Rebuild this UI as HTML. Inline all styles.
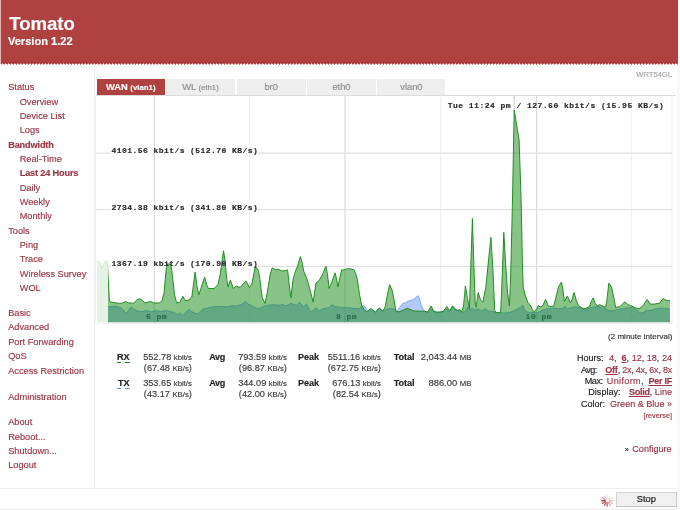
<!DOCTYPE html>
<html><head><meta charset="utf-8"><title>Tomato</title>
<style>
html,body{margin:0;padding:0;}
body{width:680px;height:510px;overflow:hidden;background:#fff;position:relative;font-family:"Liberation Sans",sans-serif;font-size:9.07px;color:#333;}
.a{position:absolute;white-space:nowrap;line-height:12px;}
.m{color:#9b3545;font-size:9.22px;}
.b{font-weight:bold;}
.s{font-size:7.75px;}
.mono{font-family:"Liberation Mono",monospace;font-weight:bold;font-size:8.0px;letter-spacing:0.485px;color:#2a2a2a;}
.tab{position:absolute;top:79px;height:16.3px;background:#eeeeee;color:#8c8c8c;text-align:center;line-height:16.5px;font-size:9.3px;}
.tab .s{font-size:7.8px;}
.r{text-align:right;}
.num{font-size:9.2px;color:#3a3a3a;}
.lb{letter-spacing:-0.3px;color:#222;}
.lk{color:#9b3545;}
.sel{color:#9b3545;font-weight:bold;text-decoration:underline;}
</style></head><body><div id="w" style="position:absolute;left:0;top:0;width:680px;height:510px;will-change:transform;-webkit-text-stroke:0.16px;">

<svg class="a" style="left:0;top:0" width="680" height="70" viewBox="0 0 680 70"><rect x="0" y="0" width="1.3" height="64" fill="#e6b4b4"/><polygon points="1.0,0.0 678.0,0.0 678.0,62.9 678.0,62.9 677.3,65.0 675.7,62.9 674.2,65.0 672.7,62.9 671.1,65.0 669.6,62.9 668.1,65.0 666.5,62.9 665.0,65.0 663.5,62.9 662.0,65.0 660.4,62.9 658.9,65.0 657.4,62.9 655.8,65.0 654.3,62.9 652.8,65.0 651.2,62.9 649.7,65.0 648.2,62.9 646.7,65.0 645.1,62.9 643.6,65.0 642.1,62.9 640.5,65.0 639.0,62.9 637.5,65.0 635.9,62.9 634.4,65.0 632.9,62.9 631.4,65.0 629.8,62.9 628.3,65.0 626.8,62.9 625.2,65.0 623.7,62.9 622.2,65.0 620.6,62.9 619.1,65.0 617.6,62.9 616.1,65.0 614.5,62.9 613.0,65.0 611.5,62.9 609.9,65.0 608.4,62.9 606.9,65.0 605.3,62.9 603.8,65.0 602.3,62.9 600.8,65.0 599.2,62.9 597.7,65.0 596.2,62.9 594.6,65.0 593.1,62.9 591.6,65.0 590.0,62.9 588.5,65.0 587.0,62.9 585.5,65.0 583.9,62.9 582.4,65.0 580.9,62.9 579.3,65.0 577.8,62.9 576.3,65.0 574.7,62.9 573.2,65.0 571.7,62.9 570.2,65.0 568.6,62.9 567.1,65.0 565.6,62.9 564.0,65.0 562.5,62.9 561.0,65.0 559.4,62.9 557.9,65.0 556.4,62.9 554.9,65.0 553.3,62.9 551.8,65.0 550.3,62.9 548.7,65.0 547.2,62.9 545.7,65.0 544.1,62.9 542.6,65.0 541.1,62.9 539.6,65.0 538.0,62.9 536.5,65.0 535.0,62.9 533.4,65.0 531.9,62.9 530.4,65.0 528.9,62.9 527.3,65.0 525.8,62.9 524.3,65.0 522.7,62.9 521.2,65.0 519.7,62.9 518.1,65.0 516.6,62.9 515.1,65.0 513.6,62.9 512.0,65.0 510.5,62.9 509.0,65.0 507.4,62.9 505.9,65.0 504.4,62.9 502.8,65.0 501.3,62.9 499.8,65.0 498.3,62.9 496.7,65.0 495.2,62.9 493.7,65.0 492.1,62.9 490.6,65.0 489.1,62.9 487.5,65.0 486.0,62.9 484.5,65.0 483.0,62.9 481.4,65.0 479.9,62.9 478.4,65.0 476.8,62.9 475.3,65.0 473.8,62.9 472.2,65.0 470.7,62.9 469.2,65.0 467.7,62.9 466.1,65.0 464.6,62.9 463.1,65.0 461.5,62.9 460.0,65.0 458.5,62.9 456.9,65.0 455.4,62.9 453.9,65.0 452.4,62.9 450.8,65.0 449.3,62.9 447.8,65.0 446.2,62.9 444.7,65.0 443.2,62.9 441.6,65.0 440.1,62.9 438.6,65.0 437.1,62.9 435.5,65.0 434.0,62.9 432.5,65.0 430.9,62.9 429.4,65.0 427.9,62.9 426.3,65.0 424.8,62.9 423.3,65.0 421.8,62.9 420.2,65.0 418.7,62.9 417.2,65.0 415.6,62.9 414.1,65.0 412.6,62.9 411.0,65.0 409.5,62.9 408.0,65.0 406.5,62.9 404.9,65.0 403.4,62.9 401.9,65.0 400.3,62.9 398.8,65.0 397.3,62.9 395.7,65.0 394.2,62.9 392.7,65.0 391.2,62.9 389.6,65.0 388.1,62.9 386.6,65.0 385.0,62.9 383.5,65.0 382.0,62.9 380.4,65.0 378.9,62.9 377.4,65.0 375.9,62.9 374.3,65.0 372.8,62.9 371.3,65.0 369.7,62.9 368.2,65.0 366.7,62.9 365.1,65.0 363.6,62.9 362.1,65.0 360.6,62.9 359.0,65.0 357.5,62.9 356.0,65.0 354.4,62.9 352.9,65.0 351.4,62.9 349.8,65.0 348.3,62.9 346.8,65.0 345.3,62.9 343.7,65.0 342.2,62.9 340.7,65.0 339.1,62.9 337.6,65.0 336.1,62.9 334.5,65.0 333.0,62.9 331.5,65.0 330.0,62.9 328.4,65.0 326.9,62.9 325.4,65.0 323.8,62.9 322.3,65.0 320.8,62.9 319.2,65.0 317.7,62.9 316.2,65.0 314.7,62.9 313.1,65.0 311.6,62.9 310.1,65.0 308.5,62.9 307.0,65.0 305.5,62.9 303.9,65.0 302.4,62.9 300.9,65.0 299.4,62.9 297.8,65.0 296.3,62.9 294.8,65.0 293.2,62.9 291.7,65.0 290.2,62.9 288.6,65.0 287.1,62.9 285.6,65.0 284.1,62.9 282.5,65.0 281.0,62.9 279.5,65.0 277.9,62.9 276.4,65.0 274.9,62.9 273.3,65.0 271.8,62.9 270.3,65.0 268.8,62.9 267.2,65.0 265.7,62.9 264.2,65.0 262.6,62.9 261.1,65.0 259.6,62.9 258.0,65.0 256.5,62.9 255.0,65.0 253.5,62.9 251.9,65.0 250.4,62.9 248.9,65.0 247.3,62.9 245.8,65.0 244.3,62.9 242.7,65.0 241.2,62.9 239.7,65.0 238.2,62.9 236.6,65.0 235.1,62.9 233.6,65.0 232.0,62.9 230.5,65.0 229.0,62.9 227.4,65.0 225.9,62.9 224.4,65.0 222.9,62.9 221.3,65.0 219.8,62.9 218.3,65.0 216.7,62.9 215.2,65.0 213.7,62.9 212.1,65.0 210.6,62.9 209.1,65.0 207.6,62.9 206.0,65.0 204.5,62.9 203.0,65.0 201.4,62.9 199.9,65.0 198.4,62.9 196.8,65.0 195.3,62.9 193.8,65.0 192.3,62.9 190.7,65.0 189.2,62.9 187.7,65.0 186.1,62.9 184.6,65.0 183.1,62.9 181.5,65.0 180.0,62.9 178.5,65.0 177.0,62.9 175.4,65.0 173.9,62.9 172.4,65.0 170.8,62.9 169.3,65.0 167.8,62.9 166.2,65.0 164.7,62.9 163.2,65.0 161.7,62.9 160.1,65.0 158.6,62.9 157.1,65.0 155.5,62.9 154.0,65.0 152.5,62.9 150.9,65.0 149.4,62.9 147.9,65.0 146.4,62.9 144.8,65.0 143.3,62.9 141.8,65.0 140.2,62.9 138.7,65.0 137.2,62.9 135.6,65.0 134.1,62.9 132.6,65.0 131.1,62.9 129.5,65.0 128.0,62.9 126.5,65.0 124.9,62.9 123.4,65.0 121.9,62.9 120.3,65.0 118.8,62.9 117.3,65.0 115.8,62.9 114.2,65.0 112.7,62.9 111.2,65.0 109.6,62.9 108.1,65.0 106.6,62.9 105.0,65.0 103.5,62.9 102.0,65.0 100.5,62.9 98.9,65.0 97.4,62.9 95.9,65.0 94.3,62.9 92.8,65.0 91.3,62.9 89.7,65.0 88.2,62.9 86.7,65.0 85.2,62.9 83.6,65.0 82.1,62.9 80.6,65.0 79.0,62.9 77.5,65.0 76.0,62.9 74.4,65.0 72.9,62.9 71.4,65.0 69.9,62.9 68.3,65.0 66.8,62.9 65.3,65.0 63.7,62.9 62.2,65.0 60.7,62.9 59.1,65.0 57.6,62.9 56.1,65.0 54.6,62.9 53.0,65.0 51.5,62.9 50.0,65.0 48.4,62.9 46.9,65.0 45.4,62.9 43.8,65.0 42.3,62.9 40.8,65.0 39.2,62.9 37.7,65.0 36.2,62.9 34.7,65.0 33.1,62.9 31.6,65.0 30.1,62.9 28.5,65.0 27.0,62.9 25.5,65.0 23.9,62.9 22.4,65.0 20.9,62.9 19.4,65.0 17.8,62.9 16.3,65.0 14.8,62.9 13.2,65.0 11.7,62.9 10.2,65.0 8.7,62.9 7.1,65.0 5.6,62.9 4.1,65.0 2.5,62.9 1.0,65.0 1.0,62.9" fill="#b04141"/><rect x="1" y="62.2" width="677" height="1.3" fill="#8a2a2a" fill-opacity="0.35"/></svg>
<div class="a b" style="left:9.3px;top:12.6px;font-size:18.55px;line-height:22px;color:#fff;">Tomato</div>
<div class="a b" style="left:7.9px;top:33.7px;font-size:11.1px;line-height:14px;color:#fff;">Version 1.22</div>
<div class="a" style="left:93.5px;top:66px;width:1px;height:422px;background:#ededed;"></div>
<div class="a" style="left:0;top:487.5px;width:680px;height:1px;background:#eeeeee;"></div>
<div class="a" style="left:0;top:508.5px;width:680px;height:1px;background:#ededed;"></div>
<div class="a" style="left:677.4px;top:65px;width:2.6px;height:445px;background:#f8f8f8;"></div>
<div class="a m" style="left:8.2px;top:81.20px;">Status</div>
<div class="a m" style="left:19.7px;top:95.55px;">Overview</div>
<div class="a m" style="left:19.7px;top:109.90px;">Device List</div>
<div class="a m" style="left:19.7px;top:124.25px;">Logs</div>
<div class="a m b" style="left:8.2px;top:138.60px;letter-spacing:-0.18px;">Bandwidth</div>
<div class="a m" style="left:19.7px;top:152.95px;">Real-Time</div>
<div class="a m b" style="left:19.7px;top:167.30px;letter-spacing:-0.18px;">Last 24 Hours</div>
<div class="a m" style="left:19.7px;top:181.65px;">Daily</div>
<div class="a m" style="left:19.7px;top:196.00px;">Weekly</div>
<div class="a m" style="left:19.7px;top:210.35px;">Monthly</div>
<div class="a m" style="left:8.2px;top:224.70px;">Tools</div>
<div class="a m" style="left:19.7px;top:239.05px;">Ping</div>
<div class="a m" style="left:19.7px;top:253.40px;">Trace</div>
<div class="a m" style="left:19.7px;top:267.75px;">Wireless Survey</div>
<div class="a m" style="left:19.7px;top:282.10px;">WOL</div>
<div class="a m" style="left:8.2px;top:307.00px;">Basic</div>
<div class="a m" style="left:8.2px;top:321.40px;">Advanced</div>
<div class="a m" style="left:8.2px;top:335.80px;">Port Forwarding</div>
<div class="a m" style="left:8.2px;top:350.20px;">QoS</div>
<div class="a m" style="left:8.2px;top:364.60px;">Access Restriction</div>
<div class="a m" style="left:8.2px;top:390.60px;">Administration</div>
<div class="a m" style="left:8.2px;top:416.20px;">About</div>
<div class="a m" style="left:8.2px;top:430.60px;">Reboot...</div>
<div class="a m" style="left:8.2px;top:445.00px;">Shutdown...</div>
<div class="a m" style="left:8.2px;top:459.40px;">Logout</div>
<div class="a s" style="right:8px;top:69px;color:#a4a4a4;font-size:7.6px;">WRT54GL</div>
<div class="tab b" style="left:97px;width:67.6px;background:#b04141;color:#fff;">WAN <span class="s">(vlan1)</span></div>
<div class="tab" style="left:166px;width:69px;">WL <span class="s">(eth1)</span></div>
<div class="tab" style="left:236.6px;width:69px;">br0</div>
<div class="tab" style="left:307px;width:69px;">eth0</div>
<div class="tab" style="left:377.4px;width:68px;">vlan0</div>
<svg class="a" style="left:0;top:0" width="680" height="510" viewBox="0 0 680 510">
<g shape-rendering="auto">
<line x1="95" y1="95.5" x2="676" y2="95.5" stroke="#dcdcdc" stroke-width="1"/>
<line x1="95.5" y1="95" x2="95.5" y2="323" stroke="#efefef" stroke-width="1"/>
<line x1="672" y1="95" x2="672" y2="323" stroke="#efefef" stroke-width="1"/>
<line x1="95" y1="323.3" x2="672" y2="323.3" stroke="#efefef" stroke-width="1"/>
<line x1="154.3" y1="96" x2="154.3" y2="322.5" stroke="#dadada" stroke-width="1.2"/>
<line x1="249.5" y1="96" x2="249.5" y2="322.5" stroke="#f0f0f0" stroke-width="1.2"/>
<line x1="345.0" y1="96" x2="345.0" y2="322.5" stroke="#dadada" stroke-width="1.2"/>
<line x1="440.6" y1="96" x2="440.6" y2="322.5" stroke="#f0f0f0" stroke-width="1.2"/>
<line x1="536.6" y1="96" x2="536.6" y2="322.5" stroke="#dadada" stroke-width="1.2"/>
<line x1="631.3" y1="96" x2="631.3" y2="322.5" stroke="#f0f0f0" stroke-width="1.2"/>
<line x1="96" y1="153.15" x2="110.5" y2="153.15" stroke="#e1e1e1" stroke-width="1.2"/>
<line x1="257.5" y1="153.15" x2="672" y2="153.15" stroke="#e1e1e1" stroke-width="1.2"/>
<line x1="96" y1="209.7" x2="110.5" y2="209.7" stroke="#e1e1e1" stroke-width="1.2"/>
<line x1="257.5" y1="209.7" x2="672" y2="209.7" stroke="#e1e1e1" stroke-width="1.2"/>
<line x1="96" y1="266.35" x2="110.5" y2="266.35" stroke="#e1e1e1" stroke-width="1.2"/>
<line x1="257.5" y1="266.35" x2="672" y2="266.35" stroke="#e1e1e1" stroke-width="1.2"/>
<line x1="514.2" y1="96" x2="514.2" y2="110" stroke="#c4c4c4" stroke-width="0.9"/>
<polygon points="108.0,306.6 109.0,306.6 117.0,306.6 120.7,307.6 123.7,310.3 125.9,313.5 128.1,311.0 131.0,307.0 133.5,308.8 136.9,311.0 142.0,311.5 146.5,310.6 150.9,311.8 156.8,310.6 161.2,311.5 165.6,310.6 170.0,311.5 174.4,312.5 177.4,314.7 180.0,312.9 183.2,315.4 186.9,311.0 189.1,309.6 192.1,311.8 195.0,313.2 198.1,313.5 200.3,311.8 203.2,308.8 206.2,308.5 209.1,307.4 215.0,306.6 226.8,306.6 232.6,305.6 237.1,305.9 241.5,304.4 245.6,301.5 248.1,304.1 251.8,305.6 256.2,308.1 259.1,308.5 263.5,306.6 266.5,305.6 272.4,304.7 278.2,305.1 284.1,304.7 285.0,305.9 287.9,305.1 290.9,303.2 293.8,304.7 296.8,305.1 299.7,302.2 302.4,305.6 303.8,306.6 306.8,304.1 308.5,308.1 310.7,311.8 313.7,310.3 316.2,307.6 318.8,311.0 323.2,308.8 329.1,307.4 332.1,304.4 335.0,306.6 340.9,307.4 346.8,307.6 352.6,308.1 355.0,308.5 359.4,308.5 361.6,306.5 363.8,305.3 366.0,308.5 368.2,311.2 370.4,309.4 372.6,310.4 375.6,312.4 379.3,308.5 382.9,311.5 385.9,309.4 390.3,308.5 394.0,309.0 396.2,311.2 398.4,309.4 400.6,306.0 402.8,303.5 405.7,302.6 408.7,300.9 411.6,300.1 414.6,298.7 416.8,296.5 418.2,295.7 419.7,299.4 421.2,305.3 423.4,310.0 425.6,311.9 428.5,312.4 431.5,308.5 434.4,311.9 443.2,311.9 446.9,309.0 449.9,311.2 452.6,306.6 455.1,309.6 457.4,310.6 459.6,310.0 461.8,312.5 464.7,311.8 468.4,306.6 469.9,310.3 472.1,308.1 475.0,310.3 478.7,308.8 481.6,311.0 485.3,308.8 488.2,311.0 494.1,311.8 500.0,312.9 505.9,312.9 511.8,311.8 517.6,308.8 520.6,307.4 522.8,305.1 524.3,308.8 526.5,311.8 529.4,312.5 534.1,312.5 537.9,312.5 540.9,311.0 543.8,309.6 548.2,308.8 554.1,308.1 558.5,308.8 562.9,308.1 565.1,306.6 567.4,308.8 570.3,308.1 574.0,306.6 577.6,307.1 582.1,308.8 585.7,309.6 589.4,308.1 593.8,307.1 598.2,306.6 602.6,307.6 605.6,308.8 608.5,310.6 612.9,310.6 617.4,309.6 621.8,308.8 626.2,308.1 629.8,307.8 632.6,306.9 636.4,309.7 640.1,313.0 643.8,312.5 646.6,310.0 650.3,310.6 654.1,309.3 659.7,308.2 665.3,308.2 669.9,309.3 670.0,322.3 108.0,322.3" fill="#6495ed" fill-opacity="0.5"/>
<polyline points="108.0,306.6 109.0,306.6 117.0,306.6 120.7,307.6 123.7,310.3 125.9,313.5 128.1,311.0 131.0,307.0 133.5,308.8 136.9,311.0 142.0,311.5 146.5,310.6 150.9,311.8 156.8,310.6 161.2,311.5 165.6,310.6 170.0,311.5 174.4,312.5 177.4,314.7 180.0,312.9 183.2,315.4 186.9,311.0 189.1,309.6 192.1,311.8 195.0,313.2 198.1,313.5 200.3,311.8 203.2,308.8 206.2,308.5 209.1,307.4 215.0,306.6 226.8,306.6 232.6,305.6 237.1,305.9 241.5,304.4 245.6,301.5 248.1,304.1 251.8,305.6 256.2,308.1 259.1,308.5 263.5,306.6 266.5,305.6 272.4,304.7 278.2,305.1 284.1,304.7 285.0,305.9 287.9,305.1 290.9,303.2 293.8,304.7 296.8,305.1 299.7,302.2 302.4,305.6 303.8,306.6 306.8,304.1 308.5,308.1 310.7,311.8 313.7,310.3 316.2,307.6 318.8,311.0 323.2,308.8 329.1,307.4 332.1,304.4 335.0,306.6 340.9,307.4 346.8,307.6 352.6,308.1 355.0,308.5 359.4,308.5 361.6,306.5 363.8,305.3 366.0,308.5 368.2,311.2 370.4,309.4 372.6,310.4 375.6,312.4 379.3,308.5 382.9,311.5 385.9,309.4 390.3,308.5 394.0,309.0 396.2,311.2 398.4,309.4 400.6,306.0 402.8,303.5 405.7,302.6 408.7,300.9 411.6,300.1 414.6,298.7 416.8,296.5 418.2,295.7 419.7,299.4 421.2,305.3 423.4,310.0 425.6,311.9 428.5,312.4 431.5,308.5 434.4,311.9 443.2,311.9 446.9,309.0 449.9,311.2 452.6,306.6 455.1,309.6 457.4,310.6 459.6,310.0 461.8,312.5 464.7,311.8 468.4,306.6 469.9,310.3 472.1,308.1 475.0,310.3 478.7,308.8 481.6,311.0 485.3,308.8 488.2,311.0 494.1,311.8 500.0,312.9 505.9,312.9 511.8,311.8 517.6,308.8 520.6,307.4 522.8,305.1 524.3,308.8 526.5,311.8 529.4,312.5 534.1,312.5 537.9,312.5 540.9,311.0 543.8,309.6 548.2,308.8 554.1,308.1 558.5,308.8 562.9,308.1 565.1,306.6 567.4,308.8 570.3,308.1 574.0,306.6 577.6,307.1 582.1,308.8 585.7,309.6 589.4,308.1 593.8,307.1 598.2,306.6 602.6,307.6 605.6,308.8 608.5,310.6 612.9,310.6 617.4,309.6 621.8,308.8 626.2,308.1 629.8,307.8 632.6,306.9 636.4,309.7 640.1,313.0 643.8,312.5 646.6,310.0 650.3,310.6 654.1,309.3 659.7,308.2 665.3,308.2 669.9,309.3" fill="none" stroke="#6495ed" stroke-width="0.75" stroke-linejoin="round"/>
<polygon points="97.0,261.8 99.6,261.8 102.2,268.5 104.8,261.6 107.3,261.8 109.4,300.8 110.6,302.0 114.1,302.6 118.5,303.2 122.2,303.2 125.4,301.5 128.8,302.9 133.5,303.2 136.9,300.0 139.1,298.8 141.8,299.7 144.3,302.6 147.9,302.2 150.6,301.2 153.1,302.9 159.7,302.9 161.9,300.7 164.1,292.6 166.3,267.6 167.4,264.0 170.7,264.0 172.2,273.5 174.4,294.1 176.6,302.9 179.6,302.6 182.9,296.3 185.4,300.7 189.1,300.0 190.0,298.5 191.8,297.1 193.2,286.8 195.1,272.1 197.1,286.8 198.8,294.9 201.0,288.2 204.7,277.2 206.9,285.3 208.4,288.5 214.3,288.5 217.9,284.6 220.1,275.0 222.4,258.8 223.5,250.7 225.0,260.3 226.8,279.4 227.9,286.8 230.4,280.1 233.4,288.5 236.3,286.0 240.0,287.5 245.9,280.9 249.6,287.5 251.8,283.8 255.4,266.2 258.4,270.6 259.9,279.4 262.1,297.1 265.0,303.7 267.2,292.6 270.1,275.0 272.1,267.9 276.0,269.9 278.2,269.1 281.2,270.9 285.0,270.6 287.6,269.9 289.1,283.8 290.9,297.8 293.1,279.4 294.6,273.5 297.5,266.2 300.4,256.6 301.9,261.8 303.8,271.3 307.1,279.4 310.0,289.7 313.2,302.2 315.9,283.1 319.1,280.6 322.9,273.5 325.9,266.2 327.4,273.5 329.1,288.5 332.1,281.6 335.0,272.8 336.2,277.2 337.9,286.8 340.1,276.5 341.6,269.9 343.8,269.9 348.2,268.4 354.1,269.9 355.6,273.5 357.2,278.8 359.4,293.5 361.6,305.3 364.6,310.4 367.5,311.9 370.4,308.5 372.6,309.7 375.6,311.9 379.3,307.9 382.9,311.2 385.1,306.8 387.4,295.0 389.6,284.7 391.8,289.1 394.0,299.4 395.9,311.2 399.1,311.9 403.5,310.0 407.2,308.2 410.1,309.4 413.8,310.9 419.7,311.2 424.1,311.2 427.8,311.9 431.2,306.0 433.7,311.2 437.4,312.4 443.2,311.5 446.9,306.5 449.4,310.4 450.0,310.3 452.6,305.9 455.1,308.8 457.4,310.3 459.6,309.6 461.8,311.8 463.5,305.9 465.4,286.0 467.6,298.5 469.4,308.8 470.9,263.2 472.4,218.5 473.8,263.2 475.3,304.4 476.2,307.4 478.2,292.6 480.6,300.0 482.9,302.1 485.9,286.8 488.8,257.4 490.9,237.4 492.9,269.1 494.7,310.3 495.9,312.6 500.6,312.6 501.8,286.8 503.8,232.4 505.6,263.2 507.6,292.6 509.4,305.9 510.6,277.9 512.4,204.4 514.2,110.0 519.1,140.0 520.3,175.0 521.2,204.4 522.4,263.2 523.2,287.5 525.2,295.0 527.8,302.3 530.5,305.5 532.4,309.6 534.1,311.8 536.8,308.8 538.2,305.6 540.9,307.1 543.1,305.1 545.6,299.3 548.2,305.9 551.2,306.6 553.8,305.9 556.3,295.6 558.5,286.8 561.5,282.1 562.9,289.7 564.4,301.5 567.4,295.9 570.3,302.9 572.1,299.3 574.0,292.4 576.2,300.0 578.4,305.6 582.1,308.1 585.7,308.5 589.4,306.6 591.6,300.7 593.1,297.8 595.3,303.7 597.5,305.6 599.7,304.7 602.6,305.9 605.6,307.4 607.1,298.5 608.8,283.1 611.5,286.8 613.7,297.1 615.6,307.4 619.6,306.6 622.5,304.4 624.7,301.8 627.6,304.4 630.6,305.6 635.4,307.8 639.2,308.7 642.9,305.9 647.2,299.4 650.3,304.1 654.1,304.1 659.7,303.1 663.0,298.5 666.2,300.3 669.9,300.7 670.0,322.3 97.0,322.3" fill="#118811" fill-opacity="0.5"/>
<polyline points="97.0,261.8 99.6,261.8 102.2,268.5 104.8,261.6 107.3,261.8 109.4,300.8 110.6,302.0 114.1,302.6 118.5,303.2 122.2,303.2 125.4,301.5 128.8,302.9 133.5,303.2 136.9,300.0 139.1,298.8 141.8,299.7 144.3,302.6 147.9,302.2 150.6,301.2 153.1,302.9 159.7,302.9 161.9,300.7 164.1,292.6 166.3,267.6 167.4,264.0 170.7,264.0 172.2,273.5 174.4,294.1 176.6,302.9 179.6,302.6 182.9,296.3 185.4,300.7 189.1,300.0 190.0,298.5 191.8,297.1 193.2,286.8 195.1,272.1 197.1,286.8 198.8,294.9 201.0,288.2 204.7,277.2 206.9,285.3 208.4,288.5 214.3,288.5 217.9,284.6 220.1,275.0 222.4,258.8 223.5,250.7 225.0,260.3 226.8,279.4 227.9,286.8 230.4,280.1 233.4,288.5 236.3,286.0 240.0,287.5 245.9,280.9 249.6,287.5 251.8,283.8 255.4,266.2 258.4,270.6 259.9,279.4 262.1,297.1 265.0,303.7 267.2,292.6 270.1,275.0 272.1,267.9 276.0,269.9 278.2,269.1 281.2,270.9 285.0,270.6 287.6,269.9 289.1,283.8 290.9,297.8 293.1,279.4 294.6,273.5 297.5,266.2 300.4,256.6 301.9,261.8 303.8,271.3 307.1,279.4 310.0,289.7 313.2,302.2 315.9,283.1 319.1,280.6 322.9,273.5 325.9,266.2 327.4,273.5 329.1,288.5 332.1,281.6 335.0,272.8 336.2,277.2 337.9,286.8 340.1,276.5 341.6,269.9 343.8,269.9 348.2,268.4 354.1,269.9 355.6,273.5 357.2,278.8 359.4,293.5 361.6,305.3 364.6,310.4 367.5,311.9 370.4,308.5 372.6,309.7 375.6,311.9 379.3,307.9 382.9,311.2 385.1,306.8 387.4,295.0 389.6,284.7 391.8,289.1 394.0,299.4 395.9,311.2 399.1,311.9 403.5,310.0 407.2,308.2 410.1,309.4 413.8,310.9 419.7,311.2 424.1,311.2 427.8,311.9 431.2,306.0 433.7,311.2 437.4,312.4 443.2,311.5 446.9,306.5 449.4,310.4 450.0,310.3 452.6,305.9 455.1,308.8 457.4,310.3 459.6,309.6 461.8,311.8 463.5,305.9 465.4,286.0 467.6,298.5 469.4,308.8 470.9,263.2 472.4,218.5 473.8,263.2 475.3,304.4 476.2,307.4 478.2,292.6 480.6,300.0 482.9,302.1 485.9,286.8 488.8,257.4 490.9,237.4 492.9,269.1 494.7,310.3 495.9,312.6 500.6,312.6 501.8,286.8 503.8,232.4 505.6,263.2 507.6,292.6 509.4,305.9 510.6,277.9 512.4,204.4 514.2,110.0 519.1,140.0 520.3,175.0 521.2,204.4 522.4,263.2 523.2,287.5 525.2,295.0 527.8,302.3 530.5,305.5 532.4,309.6 534.1,311.8 536.8,308.8 538.2,305.6 540.9,307.1 543.1,305.1 545.6,299.3 548.2,305.9 551.2,306.6 553.8,305.9 556.3,295.6 558.5,286.8 561.5,282.1 562.9,289.7 564.4,301.5 567.4,295.9 570.3,302.9 572.1,299.3 574.0,292.4 576.2,300.0 578.4,305.6 582.1,308.1 585.7,308.5 589.4,306.6 591.6,300.7 593.1,297.8 595.3,303.7 597.5,305.6 599.7,304.7 602.6,305.9 605.6,307.4 607.1,298.5 608.8,283.1 611.5,286.8 613.7,297.1 615.6,307.4 619.6,306.6 622.5,304.4 624.7,301.8 627.6,304.4 630.6,305.6 635.4,307.8 639.2,308.7 642.9,305.9 647.2,299.4 650.3,304.1 654.1,304.1 659.7,303.1 663.0,298.5 666.2,300.3 669.9,300.7" fill="none" stroke="#1a8a1a" stroke-opacity="1" stroke-width="0.95" stroke-linejoin="round"/>
<rect x="96" y="255" width="12.0" height="68.30000000000001" fill="#fff" fill-opacity="0.80"/>
</g></svg>
<div class="a mono" style="left:111.5px;top:145.23px;letter-spacing:0.440px;">4101.56 kbit/s (512.70 KB/s)</div>
<div class="a mono" style="left:111.5px;top:201.83px;letter-spacing:0.440px;">2734.38 kbit/s (341.80 KB/s)</div>
<div class="a mono" style="left:111.5px;top:258.38px;letter-spacing:0.440px;">1367.19 kbit/s (170.90 KB/s)</div>
<div class="a mono" style="left:447.7px;top:99.93px;">Tue 11:24 pm / 127.60 kbit/s (15.95 KB/s)</div>
<div class="a mono" style="left:145.9px;top:311.03px;color:#226f47;opacity:0.95;">6 pm</div>
<div class="a mono" style="left:335.9px;top:311.03px;color:#226f47;opacity:0.95;">8 pm</div>
<div class="a mono" style="left:525.6px;top:311.03px;color:#226f47;opacity:0.95;">10 pm</div>
<div class="a" style="right:7.6px;top:330.8px;font-size:8.05px;color:#333;">(2 minute interval)</div>
<div class="a b r" style="left:99.7px;width:30px;top:351px;color:#222;font-size:9.1px;">RX</div>
<div class="a" style="left:117.4px;top:362.1px;width:3.2px;height:1.2px;background:#118811;"></div>
<div class="a" style="left:125.2px;top:362.1px;width:4.6px;height:1.2px;background:#118811;"></div>
<div class="a r num" style="left:111.9px;width:80px;top:351px;">552.78 <span class="s">kbit/s</span></div>
<div class="a r num" style="left:111.9px;width:80px;top:362.1px;">(67.48 <span class="s">KB/s</span>)</div>
<div class="a b lb" style="left:209.2px;top:351px;">Avg</div>
<div class="a r num" style="left:206.89999999999998px;width:80px;top:351px;">793.59 <span class="s">kbit/s</span></div>
<div class="a r num" style="left:206.89999999999998px;width:80px;top:362.1px;">(96.87 <span class="s">KB/s</span>)</div>
<div class="a b lb" style="left:298px;top:351px;letter-spacing:0px;">Peak</div>
<div class="a r num" style="left:300.9px;width:80px;top:351px;">5511.16 <span class="s">kbit/s</span></div>
<div class="a r num" style="left:300.9px;width:80px;top:362.1px;">(672.75 <span class="s">KB/s</span>)</div>
<div class="a b lb" style="left:393.7px;top:351px;letter-spacing:-0.05px;">Total</div>
<div class="a r num" style="left:391.4px;width:80px;top:351px;font-size:9.35px;">2,043.44 <span class="s" style="font-size:7.8px">MB</span></div>
<div class="a b r" style="left:99.7px;width:30px;top:376.5px;color:#222;font-size:9.1px;">TX</div>
<div class="a" style="left:117.4px;top:387.6px;width:3.2px;height:1.2px;background:#6495ed;"></div>
<div class="a" style="left:125.2px;top:387.6px;width:4.6px;height:1.2px;background:#6495ed;"></div>
<div class="a r num" style="left:111.9px;width:80px;top:376.5px;">353.65 <span class="s">kbit/s</span></div>
<div class="a r num" style="left:111.9px;width:80px;top:387.6px;">(43.17 <span class="s">KB/s</span>)</div>
<div class="a b lb" style="left:209.2px;top:376.5px;">Avg</div>
<div class="a r num" style="left:206.89999999999998px;width:80px;top:376.5px;">344.09 <span class="s">kbit/s</span></div>
<div class="a r num" style="left:206.89999999999998px;width:80px;top:387.6px;">(42.00 <span class="s">KB/s</span>)</div>
<div class="a b lb" style="left:298px;top:376.5px;letter-spacing:0px;">Peak</div>
<div class="a r num" style="left:300.9px;width:80px;top:376.5px;">676.13 <span class="s">kbit/s</span></div>
<div class="a r num" style="left:300.9px;width:80px;top:387.6px;">(82.54 <span class="s">KB/s</span>)</div>
<div class="a b lb" style="left:393.7px;top:376.5px;letter-spacing:-0.05px;">Total</div>
<div class="a r num" style="left:391.4px;width:80px;top:376.5px;font-size:9.35px;">886.00 <span class="s" style="font-size:7.8px">MB</span></div>
<div class="a" style="left:576.9px;top:352.2px;color:#222;">Hours:</div>
<div class="a r" style="right:8px;top:352.2px;letter-spacing:0px;"><span class="lk">4</span>,&nbsp; <span class="sel">6</span>, <span class="lk">12</span>, <span class="lk">18</span>, <span class="lk">24</span></div>
<div class="a" style="left:580.9px;top:363.6px;color:#222;letter-spacing:-0.5px;">Avg:</div>
<div class="a r" style="right:8px;top:363.6px;letter-spacing:-0.26px;"><span class="sel">Off</span>, <span class="lk">2x</span>, <span class="lk">4x</span>, <span class="lk">6x</span>, <span class="lk">8x</span></div>
<div class="a" style="left:584.8px;top:375.0px;color:#222;letter-spacing:-0.5px;">Max:</div>
<div class="a r" style="right:8px;top:375.0px;letter-spacing:0px;"><span class="lk" style="letter-spacing:0.35px">Uniform</span>,&nbsp; <span class="sel" style="letter-spacing:-0.28px">Per IF</span></div>
<div class="a" style="left:588.3px;top:386.2px;color:#222;">Display:</div>
<div class="a r" style="right:8px;top:386.2px;letter-spacing:0px;"><span class="sel" style="letter-spacing:-0.25px">Solid</span>, <span class="lk">Line</span></div>
<div class="a" style="left:580.9px;top:397.6px;color:#222;">Color:</div>
<div class="a r" style="right:8px;top:397.6px;letter-spacing:0px;"><span class="lk">Green &amp; Blue &raquo;</span></div>
<div class="a r lk" style="right:8px;top:409.9px;font-size:7.3px;">[reverse]</div>
<div class="a r" style="right:8.4px;top:442.8px;"><span style="font-size:7.5px;position:relative;top:-0.3px;left:-0.8px">&raquo;</span> <span class="lk">Configure</span></div>
<svg class="a" style="left:0;top:0;" width="680" height="510"><line x1="609.50" y1="500.70" x2="612.80" y2="500.70" stroke="#c23343" stroke-opacity="0.3" stroke-width="1.35" stroke-linecap="round"/><line x1="609.21" y1="501.80" x2="612.06" y2="503.45" stroke="#c23343" stroke-opacity="0.35" stroke-width="1.35" stroke-linecap="round"/><line x1="608.40" y1="502.61" x2="610.05" y2="505.46" stroke="#c23343" stroke-opacity="0.45" stroke-width="1.35" stroke-linecap="round"/><line x1="607.30" y1="502.90" x2="607.30" y2="506.20" stroke="#c23343" stroke-opacity="0.7" stroke-width="1.35" stroke-linecap="round"/><line x1="606.20" y1="502.61" x2="604.55" y2="505.46" stroke="#c23343" stroke-opacity="0.75" stroke-width="1.35" stroke-linecap="round"/><line x1="605.39" y1="501.80" x2="602.54" y2="503.45" stroke="#c23343" stroke-opacity="0.85" stroke-width="1.35" stroke-linecap="round"/><line x1="605.10" y1="500.70" x2="601.80" y2="500.70" stroke="#c23343" stroke-opacity="1.0" stroke-width="1.35" stroke-linecap="round"/><line x1="605.39" y1="499.60" x2="602.54" y2="497.95" stroke="#c23343" stroke-opacity="0.5" stroke-width="1.35" stroke-linecap="round"/><line x1="606.20" y1="498.79" x2="604.55" y2="495.94" stroke="#c23343" stroke-opacity="0.25" stroke-width="1.35" stroke-linecap="round"/><line x1="607.30" y1="498.50" x2="607.30" y2="495.20" stroke="#c23343" stroke-opacity="0.15" stroke-width="1.35" stroke-linecap="round"/><line x1="608.40" y1="498.79" x2="610.05" y2="495.94" stroke="#c23343" stroke-opacity="0.15" stroke-width="1.35" stroke-linecap="round"/><line x1="609.21" y1="499.60" x2="612.06" y2="497.95" stroke="#c23343" stroke-opacity="0.2" stroke-width="1.35" stroke-linecap="round"/></svg>
<div class="a" style="left:616.2px;top:492.2px;width:58.4px;height:12.7px;border:0.8px solid #d2d2d2;border-bottom-color:#c2c2c2;border-right-color:#c8c8c8;background:#f0f0f0;text-align:center;line-height:12.9px;color:#111;font-size:9.3px;">Stop</div>
</div></body></html>
